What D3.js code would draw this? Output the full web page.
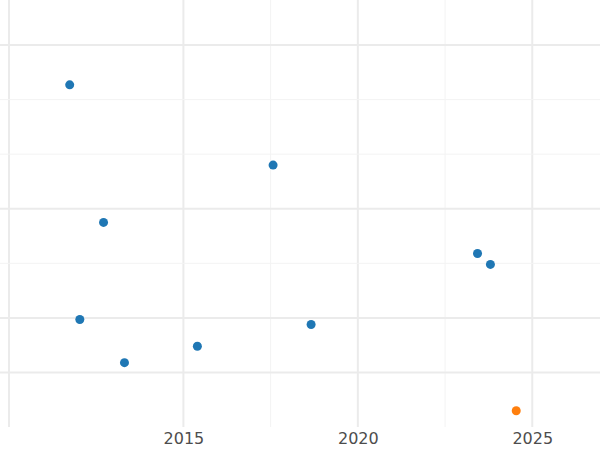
<!DOCTYPE html>
<html>
<head>
<meta charset="utf-8">
<script src="https://cdn.jsdelivr.net/npm/d3@7"></script>
<style>
  body { margin: 0; background: #fff; }
  .grid line { stroke: #ebebeb; }
  .grid line.minor { stroke: #f3f3f3; }
  .axis text { font-family: "DejaVu Sans", sans-serif; font-size: 16px; fill: #4d4d4d; }
</style>
</head>
<body>
<div id="chart"></div>
<script>
var years = [2011.74, 2017.57, 2012.71, 2023.43, 2023.8, 2012.03, 2018.66, 2015.4, 2013.31, 2024.54];
var values = [5.27, 3.8, 2.75, 2.18, 1.98, 0.97, 0.88, 0.48, 0.18, -0.7];
var groups = ["a", "a", "a", "a", "a", "a", "a", "a", "a", "b"];
var xMajor = [2010, 2015, 2020, 2025];
var xMinor = [2017.5, 2022.5];
var xLabels = [2015, 2020, 2025];
var yMajor = [0, 1, 3, 6];
var yMinor = [2, 4, 5];

var width = 600, height = 450, plotBottom = 427;

var svg = d3.select("#chart").append("svg")
    .attr("width", width)
    .attr("height", height);

var xScale = d3.scaleLinear().domain([2010, 2026.97]).range([9, 601]);
var yScale = d3.scaleLinear().domain([0, 6]).range([372.5, 45]);
var colour = d3.scaleOrdinal().domain(["a", "b"]).range(["#1f77b4", "#ff7f0e"]);

var grid = svg.append("g").attr("class", "grid");

// Vertical gridlines
grid.selectAll("line.xmin").data(xMinor).enter().append("line")
    .attr("class", "minor")
    .attr("x1", d => xScale(d)).attr("x2", d => xScale(d))
    .attr("y1", 0).attr("y2", plotBottom).attr("stroke-width", 1);
grid.selectAll("line.xmaj").data(xMajor).enter().append("line")
    .attr("x1", d => xScale(d)).attr("x2", d => xScale(d))
    .attr("y1", 0).attr("y2", plotBottom).attr("stroke-width", 2);

// Horizontal gridlines
grid.selectAll("line.ymin").data(yMinor).enter().append("line")
    .attr("class", "minor")
    .attr("x1", 0).attr("x2", width)
    .attr("y1", d => yScale(d)).attr("y2", d => yScale(d)).attr("stroke-width", 1);
grid.selectAll("line.ymaj").data(yMajor).enter().append("line")
    .attr("x1", 0).attr("x2", width)
    .attr("y1", d => yScale(d)).attr("y2", d => yScale(d)).attr("stroke-width", 2);

// X axis
var xAxis = svg.append("g")
    .attr("class", "axis")
    .attr("transform", "translate(0," + plotBottom + ")")
    .call(d3.axisBottom(xScale).tickValues(xLabels).tickFormat(d3.format("d")).tickSize(0).tickPadding(6));
xAxis.select(".domain").remove();

// Points
svg.selectAll("circle.pt")
    .data(years.map((d, i) => [d, values[i], groups[i]]))
    .enter().append("circle")
    .attr("class", "pt")
    .attr("cx", d => xScale(d[0]))
    .attr("cy", d => yScale(d[1]))
    .attr("r", 4.5)
    .attr("fill", d => colour(d[2]));
</script>
</body>
</html>
